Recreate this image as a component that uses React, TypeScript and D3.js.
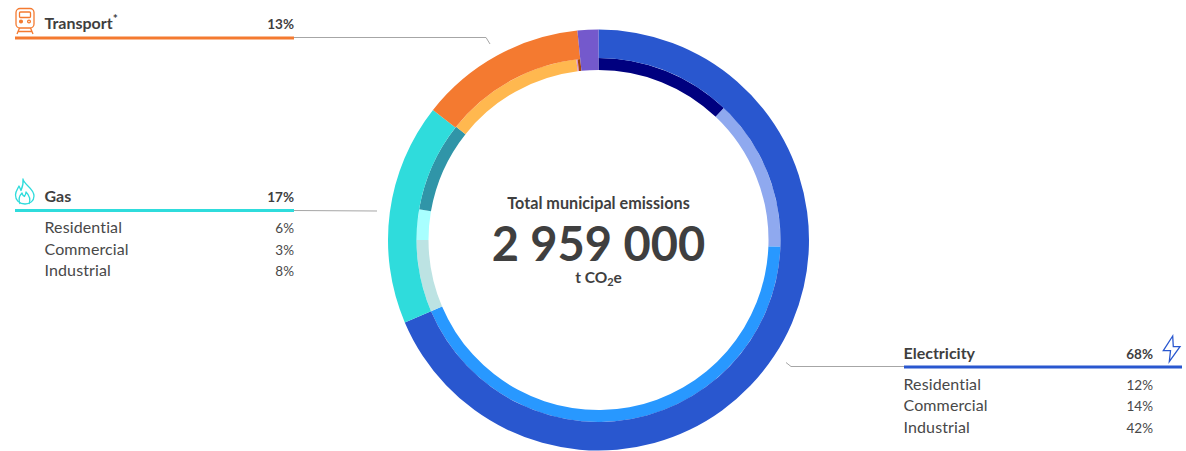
import React from "react";
import * as d3 from "d3";

const outerNames = ["Electricity", "Gas", "Transport", "Other"];
const outerValues = [68.6, 17, 12.8, 1.6];
const outerColors = ["#2957cf", "#2fdcdc", "#f47a30", "#7459cc"];

const innerNames = ["Elec residential", "Elec commercial", "Elec industrial", "Gas industrial", "Gas commercial", "Gas residential", "Transport a", "Transport b", "Transport c", "Other"];
const innerValues = [12.1, 13.5, 43.0, 6.4, 2.7, 8.0, 12.35, 0.12, 0.23, 1.6];
const innerColors = ["#00007f", "#8fa9ef", "#2898ff", "#bce3e3", "#a8ffff", "#3095a8", "#ffb84f", "#d890c8", "#a5440a", "none"];

const FONT = "Lato, sans-serif";
const TEXT = "#3f3f3f";
const ORANGE = "#f47a30", CYAN = "#2fdcdc", BLUE = "#2957cf";
const CX = 598.5, CY = 240, R = 210.5, RM = 182, RI = 170;

const transportHeader = { name: "Transport", value: "13%" };
const gasHeader = { name: "Gas", value: "17%" };
const gasRows = [["Residential", "6%"], ["Commercial", "3%"], ["Industrial", "8%"]];
const elecHeader = { name: "Electricity", value: "68%" };
const elecRows = [["Residential", "12%"], ["Commercial", "14%"], ["Industrial", "42%"]];

const pie = d3.pie<number>().sort(null);

function Ring({ values, colors, r0, r1 }: { values: number[]; colors: string[]; r0: (i: number) => number; r1: number }) {
  const arc = d3.arc<d3.PieArcDatum<number>>().innerRadius((d) => r0(d.index)).outerRadius(r1);
  return (
    <g transform={`translate(${CX},${CY})`}>
      {pie(values).map((d, i) => (
        <path key={i} d={arc(d) || ""} fill={colors[i]} />
      ))}
    </g>
  );
}

function Rows({ rows, x0, x1, ys }: { rows: string[][]; x0: number; x1: number; ys: number[] }) {
  return (
    <g fontFamily={FONT} fontSize={16} fill="#484848">
      {rows.map((r, i) => (
        <g key={i}>
          <text x={x0} y={ys[i]} letterSpacing={0.12}>{r[0]}</text>
          <text x={x1} y={ys[i]} textAnchor="end" fontSize={13.5}>{r[1]}</text>
        </g>
      ))}
    </g>
  );
}

function Header({ name, value, x0, x1, y, sup }: { name: string; value: string; x0: number; x1: number; y: number; sup?: boolean }) {
  return (
    <g fontFamily={FONT} fontSize={16} fontWeight={700} fill={TEXT}>
      <text x={x0} y={y}>
        {name}
        {sup ? <tspan fontSize={12} dy={-6}>*</tspan> : null}
      </text>
      <text x={x1} y={y} textAnchor="end" fontSize={13.5}>{value}</text>
    </g>
  );
}

function TrainIcon() {
  return (
    <g fill="none" stroke={ORANGE} strokeWidth={1.3}>
      <rect x={16} y={8.5} width={18} height={19.5} rx={4} />
      <rect x={19.5} y={12} width={11} height={5.5} rx={1} />
      <circle cx={21} cy={21.5} r={1.4} fill={ORANGE} />
      <circle cx={29} cy={21.5} r={1.4} />
      <path d="M19.5 28 L17 34 M30.5 28 L33 34 M18 31.5 H32" />
    </g>
  );
}

function FlameIcon() {
  return (
    <g fill="none" stroke={CYAN} strokeWidth={1.3} strokeLinejoin="round">
      <path d="M23 179 C24 185 34 188 34 196 C34 201 30 204 25 204 C19 204 15.5 200 15.5 195 C15.5 191 18 188.5 19 186 C20 188 20.5 189.5 21 190.5 C22.5 187 23.5 183 23 179 Z" />
      <path d="M20 204 C18 199 20 195 22 193 C22.5 195 23.5 196 24.5 196.5 C25.5 195 26 193.5 26 192 C29 195 31 199 29 204" />
    </g>
  );
}

function BoltIcon() {
  return (
    <path
      d="M1172.7 336 L1163.3 350.7 L1170.5 350.7 L1169.3 361.7 L1180 346.7 L1173.3 346.7 Z"
      fill="none"
      stroke={BLUE}
      strokeWidth={1.3}
      strokeLinejoin="miter"
    />
  );
}

export default function App() {
  return (
    <svg width={1186} height={451} style={{ position: "absolute", left: 0, top: 0, display: "block" }}>
      <Ring values={innerValues} colors={innerColors} r0={() => RI} r1={RM} />
      <Ring values={outerValues} colors={outerColors} r0={(i) => (i === 3 ? RI : RM)} r1={R} />

      <g fill="none" stroke="#a6a6a6" strokeWidth={1}>
        <polyline points="294,37.5 486,37.5 490,44" />
        <polyline points="294,210.5 377,211" />
        <polyline points="904,366.5 791,366.5 786,362.5" />
      </g>

      <rect x={15} y={36.5} width={279} height={3} fill={ORANGE} />
      <rect x={15} y={209} width={279} height={3} fill={CYAN} />
      <rect x={904} y={365.5} width={278} height={3} fill={BLUE} />

      <TrainIcon />
      <FlameIcon />
      <BoltIcon />

      <Header {...transportHeader} x0={44.5} x1={294} y={29} sup />
      <Header {...gasHeader} x0={44.5} x1={294} y={202} />
      <Rows rows={gasRows} x0={44.5} x1={294} ys={[233, 255, 276]} />
      <Header {...elecHeader} x0={903.5} x1={1153} y={359} />
      <Rows rows={elecRows} x0={903.5} x1={1153} ys={[390, 411, 433]} />

      <g fontFamily={FONT} fill={TEXT}>
        <text x={598.5} y={209} textAnchor="middle" fontSize={16.2} fontWeight={700}>Total municipal emissions</text>
        <text x={598.5} y={261} textAnchor="middle" fontSize={47} fontWeight={700}>2 959 000</text>
        <text x={598.5} y={283} textAnchor="middle" fontSize={15.5} fontWeight={700}>
          t CO<tspan fontSize={11} dy={3}>2</tspan><tspan dy={-3}>e</tspan>
        </text>
      </g>
    </svg>
  );
}
